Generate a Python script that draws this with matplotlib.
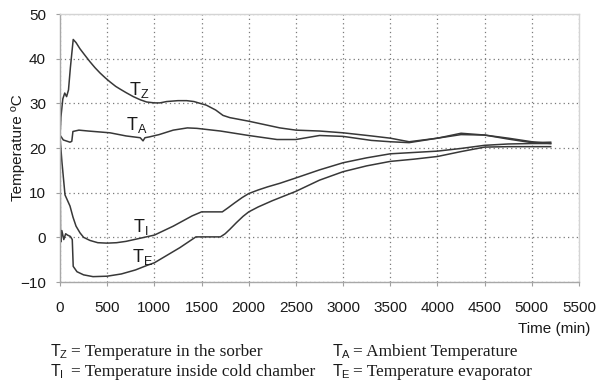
import matplotlib
matplotlib.use("Agg")
import matplotlib.pyplot as plt

plt.rcParams['font.family'] = ['Liberation Sans', 'DejaVu Sans']
plt.rcParams['mathtext.default'] = 'regular'

# ---- data ----
tz_time = [0, 10, 30, 50, 70, 90, 110, 140, 170, 212, 270, 318, 370, 424, 480, 530, 590,
           636, 700, 777, 850, 918, 1000, 1059, 1130, 1250, 1342, 1420, 1483, 1550, 1650,
           1727, 1800, 2000, 2330, 2500, 2750, 3000, 3300, 3500, 3700, 4000, 4250, 4500,
           4750, 5000, 5200]
tz_vals = [22.5, 27, 31, 32.3, 31.5, 33, 38, 44.3, 43.6, 42.2, 40.6, 39.3, 38.0, 36.8, 35.7, 34.8, 33.8,
           33.2, 32.4, 31.5, 30.8, 30.3, 30.1, 30.1, 30.4, 30.6, 30.6, 30.4, 30.0, 29.6, 28.5,
           27.3, 26.8, 26.0, 24.5, 24.0, 23.8, 23.4, 22.7, 22.2, 21.4, 22.2, 23.0, 22.9,
           22.2, 21.4, 21.0]

ta_time = [0, 35, 106, 125, 137, 200, 300, 530, 700, 850, 880, 900, 950, 1050, 1200,
           1350, 1450, 1700, 2000, 2300, 2500, 2750, 3000, 3300, 3500, 3700, 4000,
           4250, 4500, 4750, 5000, 5200]
ta_vals = [22.9, 21.8, 21.3, 21.5, 23.7, 24.0, 23.8, 23.4, 22.7, 22.3, 21.6, 22.3, 22.5, 23.0, 24.0,
           24.5, 24.4, 23.8, 22.8, 21.9, 21.9, 22.8, 22.6, 21.7, 21.4, 21.2, 22.2,
           23.3, 22.9, 22.0, 21.2, 21.3]

ti_time = [0, 20, 53, 106, 138, 170, 212, 250, 318, 400, 500, 600, 700, 850, 1000, 1200,
           1400, 1500, 1720, 1780, 1850, 1930, 2000, 2100, 2200, 2330, 2500, 2750, 3000,
           3250, 3500, 3750, 4000, 4250, 4500, 4750, 5000, 5200]
ti_vals = [22.5, 17, 9.5, 7.0, 4.5, 2.5, 1.0, 0.0, -0.7, -1.2, -1.3, -1.2, -0.9, -0.2, 0.5, 2.5,
           4.8, 5.7, 5.7, 6.6, 7.7, 8.9, 9.8, 10.6, 11.3, 12.1, 13.3, 15.1, 16.7,
           17.8, 18.7, 19.0, 19.3, 19.9, 20.6, 20.9, 21.0, 21.0]

te_time = [0, 5, 10, 20, 40, 60, 80, 110, 130, 140, 180, 250, 350, 500, 650, 800,
           920, 1000, 1271, 1440, 1700, 1750, 1800, 1870, 1940, 2000, 2100, 2250, 2500,
           2750, 3000, 3250, 3500, 3750, 4000, 4250, 4500, 4750, 5000, 5200]
te_vals = [22, 2, -1, 1.5, -0.5, 0.8, 0.5, 0.2, -0.5, -6.5, -7.7, -8.4, -8.8, -8.7, -8.2, -7.3,
           -6.3, -5.7, -2.3, 0.1, 0.1, 0.8, 1.8, 3.3, 4.7, 5.7, 6.8, 8.2, 10.3,
           12.8, 14.7, 16.0, 17.0, 17.5, 18.1, 19.2, 20.2, 20.3, 20.3, 20.3]

x_ticks = list(range(0, 5501, 500))
y_ticks = list(range(-10, 51, 10))

curve_labels = ['$T_Z$', '$T_A$', '$T_I$', '$T_E$']
label_pos = [(731, 31.9), (699, 24.0), (773, 1.2), (763, -5.5)]

legend_syms = ['$T_Z$', '$T_I$', '$T_A$', '$T_E$']
legend_texts = ['= Temperature in the sorber', '= Temperature inside cold chamber',
                '= Ambient Temperature', '= Temperature evaporator']

# ---- figure ----
W, H = 597, 383
fig = plt.figure(figsize=(W / 100, H / 100), dpi=100)
ax = fig.add_axes([60 / W, 1 - 282 / H, (579 - 60) / W, (282 - 14) / H])

line_kw = dict(color='#383838', lw=1.1)
for t, v in [(tz_time, tz_vals), (ta_time, ta_vals), (ti_time, ti_vals), (te_time, te_vals)]:
    ax.plot(t, v, **line_kw)

ax.set_xlim(0, 5500)
ax.set_ylim(-10, 50)
ax.set_xticks(x_ticks)
ax.set_yticks(y_ticks)
ax.grid(True, color='#7a7a7a', lw=0.9, linestyle=(0, (1, 2.5)))
ax.set_axisbelow(True)
for side in ['top', 'right']:
    ax.spines[side].set_color('#d4d4d4')
for side in ['left', 'bottom']:
    ax.spines[side].set_color('#a8a8a8')
for s in ax.spines.values():
    s.set_linewidth(1.0)
ax.tick_params(axis='both', labelsize=11, colors='#a0a0a0', labelcolor='#1a1a1a', length=3)
ax.tick_params(axis='x', pad=11)
ax.tick_params(axis='y', pad=7)

fig.text(18 / W, 1 - 148 / H, 'Temperature ºC', fontsize=11, rotation=90,
         ha='center', va='center', color='#1a1a1a')
fig.text(590 / W, 1 - 329 / H, 'Time (min)', fontsize=11, ha='right', va='center', color='#1a1a1a')

for lab, (x, y) in zip(curve_labels, label_pos):
    ax.text(x, y, lab, fontsize=13, ha='left', va='baseline', color='#1a1a1a')

# legend block at bottom
leg_x = [50, 50, 332, 332]
leg_y = [352, 372, 352, 372]
for sym, txt, x, y in zip(legend_syms, legend_texts, leg_x, leg_y):
    fig.text(x / W, 1 - y / H, sym, fontsize=11.5, ha='left', va='center', color='#1a1a1a')
    fig.text((x + 21) / W, 1 - y / H, txt, fontsize=12.4, ha='left', va='center',
             color='#1a1a1a', family=['Liberation Serif', 'DejaVu Serif'])

fig.savefig('out.png', dpi=100)
